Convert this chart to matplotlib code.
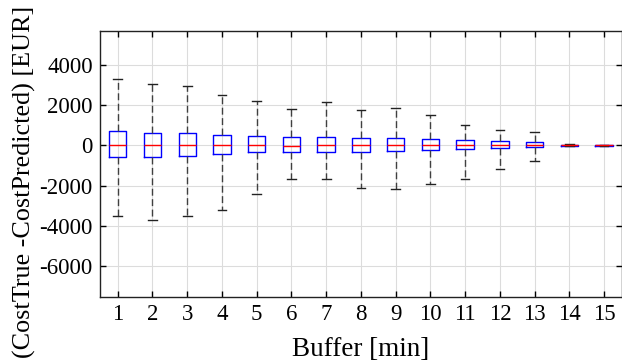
import matplotlib
matplotlib.use("Agg")
import matplotlib.pyplot as plt

buffers = list(range(1, 16))
medians = [0, 0, 0, 0, 0, -30, 0, 0, 0, 0, 0, 0, 0, 0, 0]
q1 = [-600, -600, -550, -450, -350, -350, -350, -350, -300, -250, -200, -150, -100, -25, -10]
q3 = [700, 600, 600, 500, 450, 400, 400, 350, 350, 300, 250, 200, 150, 25, 10]
whislo = [-3500, -3700, -3500, -3200, -2400, -1650, -1650, -2100, -2150, -1900, -1650, -1200, -800, -50, -15]
whishi = [3300, 3050, 2950, 2500, 2200, 1800, 2150, 1750, 1850, 1500, 1000, 750, 650, 60, 15]

plt.rcParams['font.family'] = ['Liberation Serif', 'DejaVu Serif']
plt.rcParams['axes.unicode_minus'] = False

fig = plt.figure(figsize=(6.22, 3.63), dpi=100)
ax = fig.add_axes([0.1613, 0.1826, 0.8379, 0.7320])

stats = []
for b, m, a, c, lo, hi in zip(buffers, medians, q1, q3, whislo, whishi):
    stats.append(dict(med=m, q1=a, q3=c, whislo=lo, whishi=hi, fliers=[], label=str(b)))

ax.bxp(stats, positions=buffers, widths=0.5, showfliers=False,
       boxprops=dict(color='#0000ff', linewidth=1.0),
       medianprops=dict(color='#ff0000', linewidth=1.0),
       whiskerprops=dict(color='#404040', linewidth=1.0, linestyle=(0, (5, 2.5))),
       capprops=dict(color='#222222', linewidth=1.0))

ax.set_xlim(0.5, 15.5)
ax.set_ylim(-7530, 5690)
ax.set_yticks([-6000, -4000, -2000, 0, 2000, 4000])
ax.set_xticks(buffers)
ax.set_xticklabels([str(b) for b in buffers])
ax.grid(True, color='#dcdcdc', linewidth=0.8)
ax.set_axisbelow(True)
ax.tick_params(direction='in', top=True, right=True, labelsize=16.5, length=4, width=1, pad=5.5)
ax.tick_params(axis='x', pad=5)
for s in ax.spines.values():
    s.set_linewidth(1.0)
    s.set_color('#222222')

fig.text(0.58, 1 - 356 / 363, 'Buffer [min]', fontsize=19.5, ha='center', va='baseline')
fig.text(24.0 / 622, 0.5, '(CostTrue -CostPredicted) [EUR]', fontsize=18.8,
         rotation=90, ha='center', va='center')

fig.savefig('out.png', dpi=100)
